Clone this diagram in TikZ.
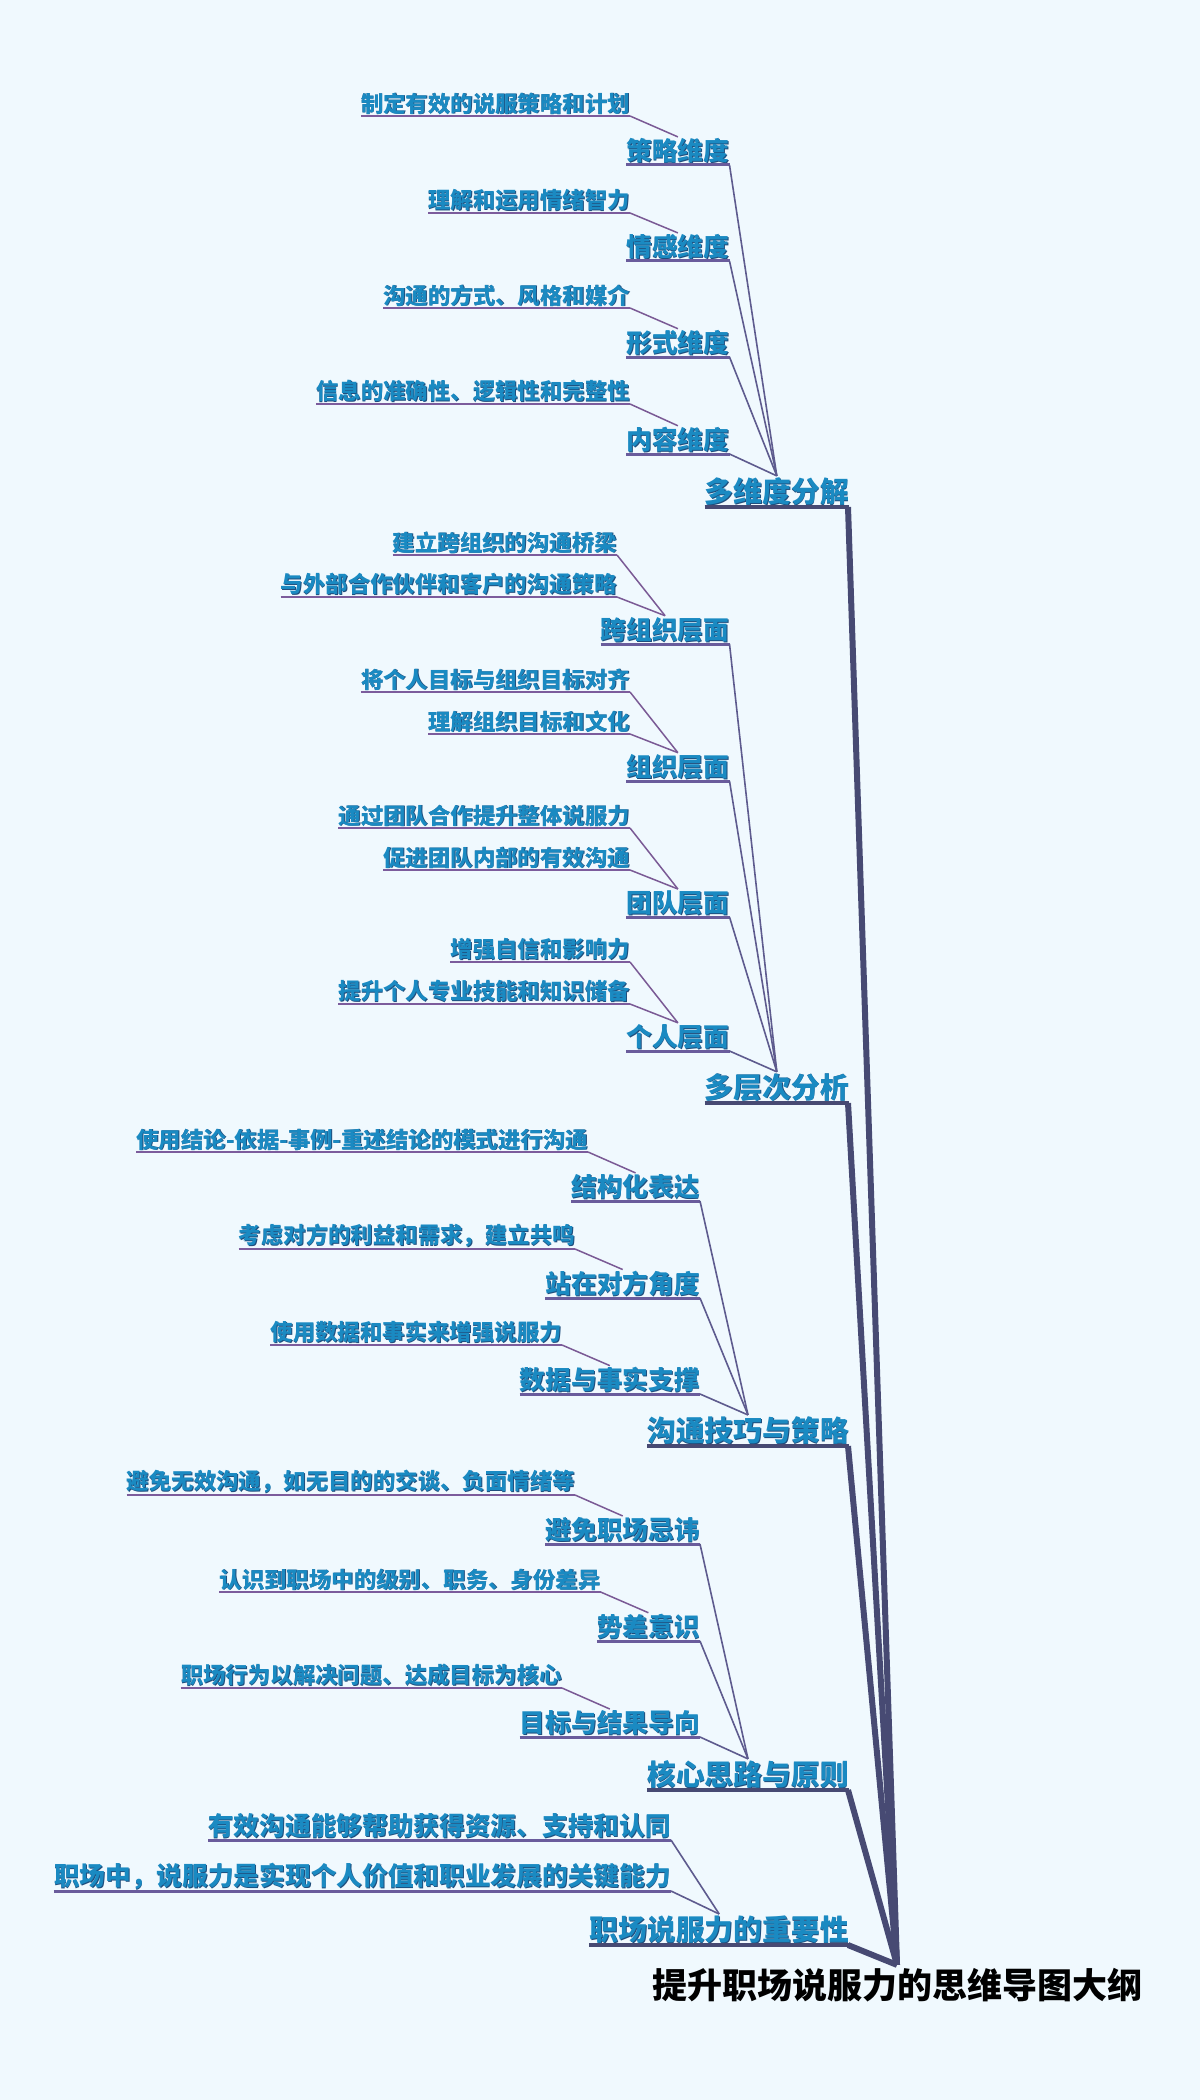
\documentclass[tikz,border=0pt]{standalone}
\usepackage{fontspec}
\setmainfont{Noto Sans CJK SC}
\definecolor{bg}{HTML}{F0F9FE}
\definecolor{tblue}{HTML}{1A8AC2}
\definecolor{tshadow}{HTML}{1F4E7D}
\definecolor{navy}{HTML}{474A73}
\definecolor{ultwo}{HTML}{6A5C9C}
\definecolor{ulthree}{HTML}{7C5C9C}
\definecolor{ktwo}{HTML}{5E5B8E}
\definecolor{kthree}{HTML}{7A5A95}
\newcommand\shd[1]{\rlap{\kern0.7pt\raisebox{-0.7pt}[0pt][0pt]{\textcolor{tshadow}{#1}}}#1}
\tikzset{
  nbase/.style={anchor=south east, inner xsep=0pt, inner ysep=1.5pt, text=tblue},
  lvone/.style={nbase, font=\fontsize{28.8}{32}\selectfont\bfseries},
  lvtwo/.style={nbase, font=\fontsize{25.7}{28}\selectfont\bfseries},
  lvthree/.style={nbase, font=\fontsize{22.4}{25}\selectfont\bfseries},
  rootn/.style={inner sep=0pt, text=black, font=\fontsize{35}{38}\selectfont\bfseries},
  uone/.style={draw=navy, line width=4pt},
  utwo/.style={draw=ultwo, line width=3pt},
  uthree/.style={draw=ulthree, line width=2.6pt},
  kone/.style={draw=navy, line width=6pt, line join=round},
  ktwo/.style={draw=ktwo, line width=1.6pt},
  kthree/.style={draw=kthree, line width=1.5pt},
}
\begin{document}
\begin{tikzpicture}[x=1pt,y=-1pt]
\fill[bg] (0,0) rectangle (1200,2100);
\useasboundingbox (0,0) rectangle (1200,2100);

% root
\node[rootn] (r) at (897,1985) {提升职场说服力的思维导图大纲};
\coordinate (rt) at ([yshift=3pt]r.north);

% level 1
\node[lvone] (a1) at (849,507) {\shd{多维度分解}};
\node[lvone] (a2) at (849,1103) {\shd{多层次分析}};
\node[lvone] (a3) at (849,1446) {\shd{沟通技巧与策略}};
\node[lvone] (a4) at (849,1790) {\shd{核心思路与原则}};
\node[lvone] (a5) at (849,1945) {\shd{职场说服力的重要性}};

% group 1
\node[lvtwo] (b11) at (729.5,165) {\shd{策略维度}};
\node[lvtwo] (b12) at (729.5,261) {\shd{情感维度}};
\node[lvtwo] (b13) at (729.5,357) {\shd{形式维度}};
\node[lvtwo] (b14) at (729.5,454) {\shd{内容维度}};
\node[lvthree] (c111) at (630,116) {\shd{制定有效的说服策略和计划}};
\node[lvthree] (c121) at (630,213) {\shd{理解和运用情绪智力}};
\node[lvthree] (c131) at (630,308) {\shd{沟通的方式、风格和媒介}};
\node[lvthree] (c141) at (630,404) {\shd{信息的准确性、逻辑性和完整性}};

% group 2
\node[lvtwo] (b21) at (729.5,644) {\shd{跨组织层面}};
\node[lvtwo] (b22) at (729.5,781) {\shd{组织层面}};
\node[lvtwo] (b23) at (729.5,917) {\shd{团队层面}};
\node[lvtwo] (b24) at (729.5,1051) {\shd{个人层面}};
\node[lvthree] (c211) at (617,555) {\shd{建立跨组织的沟通桥梁}};
\node[lvthree] (c212) at (617,597) {\shd{与外部合作伙伴和客户的沟通策略}};
\node[lvthree] (c221) at (630,692) {\shd{将个人目标与组织目标对齐}};
\node[lvthree] (c222) at (630,734) {\shd{理解组织目标和文化}};
\node[lvthree] (c231) at (630,828) {\shd{通过团队合作提升整体说服力}};
\node[lvthree] (c232) at (630,870) {\shd{促进团队内部的有效沟通}};
\node[lvthree] (c241) at (630,962) {\shd{增强自信和影响力}};
\node[lvthree] (c242) at (630,1004) {\shd{提升个人专业技能和知识储备}};

% group 3
\node[lvtwo] (b31) at (700,1201) {\shd{结构化表达}};
\node[lvtwo] (b32) at (700,1298) {\shd{站在对方角度}};
\node[lvtwo] (b33) at (700,1394) {\shd{数据与事实支撑}};
\node[lvthree] (c311) at (588,1152) {\shd{使用结论-依据-事例-重述结论的模式进行沟通}};
\node[lvthree] (c321) at (575,1249) {\shd{考虑对方的利益和需求，建立共鸣}};
\node[lvthree] (c331) at (562,1345) {\shd{使用数据和事实来增强说服力}};

% group 4
\node[lvtwo] (b41) at (700,1544) {\shd{避免职场忌讳}};
\node[lvtwo] (b42) at (700,1641) {\shd{势差意识}};
\node[lvtwo] (b43) at (700,1737) {\shd{目标与结果导向}};
\node[lvthree] (c411) at (575,1495) {\shd{避免无效沟通，如无目的的交谈、负面情绪等}};
\node[lvthree] (c421) at (600.6,1592) {\shd{认识到职场中的级别、职务、身份差异}};
\node[lvthree] (c431) at (562,1688) {\shd{职场行为以解决问题、达成目标为核心}};

% group 5
\node[lvtwo] (b51) at (671,1840) {\shd{有效沟通能够帮助获得资源、支持和认同}};
\node[lvtwo] (b52) at (671,1891) {\shd{职场中，说服力是实现个人价值和职业发展的关键能力}};

% underlines
\foreach \n in {a1,a2,a3,a4,a5}
  \draw[uone] (\n.south west) -- (\n.south east);
\foreach \n in {b11,b12,b13,b14,b21,b22,b23,b24,b31,b32,b33,b41,b42,b43,b51,b52}
  \draw[utwo] (\n.south west) -- (\n.south east);
\foreach \n in {c111,c121,c131,c141,c211,c212,c221,c222,c231,c232,c241,c242,c311,c321,c331,c411,c421,c431}
  \draw[uthree] (\n.south west) -- (\n.south east);

% connectors level 1 -> root
\foreach \n in {a1,a2,a3,a4,a5}
  \draw[kone] ([xshift=-1pt]\n.south east) -- (rt);

% level 2 -> level 1
\foreach \n/\p in {b11/a1,b12/a1,b13/a1,b14/a1,b21/a2,b22/a2,b23/a2,b24/a2,b31/a3,b32/a3,b33/a3,b41/a4,b42/a4,b43/a4,b51/a5,b52/a5}
  \draw[ktwo] (\n.south east) -- (\p.north);

% leaves -> level 2
\foreach \n/\p in {c111/b11,c121/b12,c131/b13,c141/b14,c211/b21,c212/b21,c221/b22,c222/b22,c231/b23,c232/b23,c241/b24,c242/b24,c311/b31,c321/b32,c331/b33,c411/b41,c421/b42,c431/b43}
  \draw[kthree] (\n.south east) -- (\p.north);
\end{tikzpicture}
\end{document}
